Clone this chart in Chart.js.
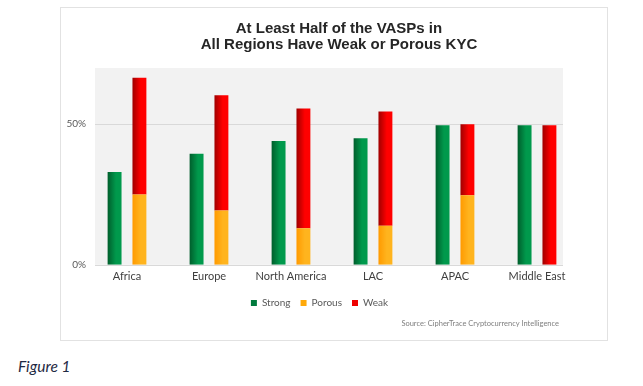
<!DOCTYPE html>
<html>
<head>
<meta charset="utf-8">
<script src="https://cdn.jsdelivr.net/npm/chart.js@4.4.1/dist/chart.umd.min.js"></script>
<style>
  body { margin: 0; background: #fff; width: 643px; height: 386px; position: relative; overflow: hidden; }
  #frame { position: absolute; left: 60px; top: 7px; width: 546px; height: 332px; border: 1px solid #e2e2e2; }
  #title { position: absolute; left: 0; width: 556px; top: 12px; text-align: center; font: bold 15px "Liberation Sans", Arial, sans-serif; line-height: 16.3px; color: #262626; }
  #source { position: absolute; right: 48px; top: 311px; font: 7.5px Lato, sans-serif; color: #7f7f7f; }
  #caption { position: absolute; left: 18px; top: 357px; font: italic 15.5px Lato, sans-serif; color: #1f2a44; }
  canvas { position: absolute; left: 0; top: 0; }
</style>
</head>
<body>
<div id="frame">
  <canvas id="kyc" width="546" height="332"></canvas>
  <div id="title">At Least Half of the VASPs in<br>All Regions Have Weak or Porous KYC</div>
  <div id="source">Source: CipherTrace Cryptocurrency Intelligence</div>
</div>
<div id="caption">Figure 1</div>
<script>
const regions = ["Africa", "Europe", "North America", "LAC", "APAC", "Middle East"];
const strong = [33, 39.5, 44, 45, 49.6, 49.6];
const porous = [25, 19.3, 13, 13.9, 24.7, 0];
const weak = [41.5, 41, 42.6, 40.6, 25.3, 49.6];
const yTicks = [0, 50];

// left-to-right shading like the original office chart
const shade = (dark, light, solid) => ctx => {
  const el = ctx.element;
  if (!el || !isFinite(el.x) || !el.width) return solid;
  const g = ctx.chart.ctx.createLinearGradient(el.x - el.width / 2, 0, el.x + el.width / 2, 0);
  g.addColorStop(0, dark);
  g.addColorStop(0.6, light);
  g.addColorStop(1, light);
  return g;
};

const solids = ["#007a3d", "#ffa90a", "#ee0000"];

// grey plot panel + gridlines, a bit narrower than the category band
const plotBg = {
  id: "plotBg",
  beforeDatasetsDraw(chart) {
    const { ctx, chartArea: a, scales } = chart;
    const left = a.left + 9, right = a.right - 15;
    ctx.save();
    ctx.fillStyle = "#f2f2f2";
    ctx.fillRect(left, a.top, right - left, a.bottom - a.top);
    ctx.strokeStyle = "#d9d9d9";
    ctx.lineWidth = 1;
    yTicks.forEach(v => {
      const y = Math.round(scales.y.getPixelForValue(v)) + 0.5;
      ctx.beginPath();
      ctx.moveTo(left, y);
      ctx.lineTo(right, y);
      ctx.stroke();
    });
    ctx.restore();
  }
};

const chart = new Chart(document.getElementById("kyc"), {
  type: "bar",
  data: {
    labels: regions,
    datasets: [
      { label: "Strong", data: strong, stack: "a", backgroundColor: shade("#005e2c", "#00994c", solids[0]) },
      { label: "Porous", data: porous, stack: "b", backgroundColor: shade("#ff9a00", "#ffb41e", solids[1]) },
      { label: "Weak", data: weak, stack: "b", backgroundColor: shade("#a00000", "#ff0000", solids[2]) }
    ]
  },
  options: {
    responsive: false,
    animation: false,
    layout: { padding: { left: 0, right: 29, top: 60, bottom: 22 } },
    datasets: { bar: { categoryPercentage: 0.606, barPercentage: 0.56 } },
    plugins: {
      tooltip: { enabled: false },
      legend: {
        position: "bottom",
        labels: {
          boxWidth: 6,
          boxHeight: 6,
          padding: 10,
          color: "#595959",
          font: { family: "Lato", size: 10 },
          generateLabels: c => c.data.datasets.map((d, i) => ({
            text: d.label,
            fillStyle: solids[i],
            strokeStyle: solids[i],
            lineWidth: 0,
            datasetIndex: i,
            fontColor: "#595959"
          }))
        }
      }
    },
    scales: {
      x: {
        stacked: true,
        grid: { display: false, drawTicks: false },
        border: { display: false },
        ticks: { color: "#404040", padding: 5, font: { family: "Lato", size: 11 } }
      },
      y: {
        stacked: true,
        min: 0,
        max: 70,
        afterBuildTicks: axis => { axis.ticks = yTicks.map(v => ({ value: v })); },
        afterFit: axis => { axis.width = 25; },
        grid: { display: false, drawTicks: false },
        border: { display: false },
        ticks: {
          color: "#595959",
          padding: 0,
          font: { family: "Lato", size: 10 },
          callback: v => v + "%"
        }
      }
    }
  },
  plugins: [plotBg]
});
// second pass so the shading knows each bar's position
chart.update("none");
</script>
</body>
</html>
